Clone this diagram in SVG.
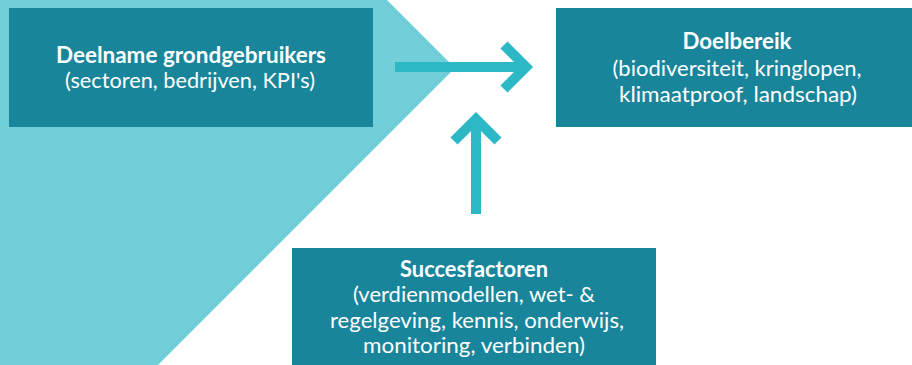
<svg xmlns="http://www.w3.org/2000/svg" width="912" height="365" viewBox="0 0 912 365">
<style>
.box{fill:#18859A}
.t{font-family:Lato,"Open Sans","Liberation Sans",sans-serif;fill:#ffffff;text-anchor:middle;font-size:22px}
.b{font-weight:bold}
.arr{fill:none;stroke:#2DB8C5;stroke-width:10}
</style>
<polygon points="0,0 387,0 455,68 158,365 0,365" fill="#71CFD9"/>
<g id="node-deelname">
<rect class="box" x="9" y="8" width="364" height="119"/>
<text class="t b" x="191" y="63" textLength="270" lengthAdjust="spacingAndGlyphs">Deelname grondgebruikers</text>
<text class="t" x="190" y="88" textLength="250" lengthAdjust="spacingAndGlyphs">(sectoren, bedrijven, KPI's)</text>
</g>
<g id="node-doelbereik">
<rect class="box" x="556" y="8" width="356" height="119"/>
<text class="t b" x="737" y="49" textLength="109" lengthAdjust="spacingAndGlyphs">Doelbereik</text>
<text class="t" x="737" y="76" textLength="249" lengthAdjust="spacingAndGlyphs">(biodiversiteit, kringlopen,</text>
<text class="t" x="738" y="102" textLength="238" lengthAdjust="spacingAndGlyphs">klimaatproof, landschap)</text>
</g>
<g id="node-succesfactoren">
<rect class="box" x="292" y="248" width="364" height="117"/>
<text class="t b" x="474" y="277" textLength="148" lengthAdjust="spacingAndGlyphs">Succesfactoren</text>
<text class="t" x="474" y="302" textLength="242" lengthAdjust="spacingAndGlyphs">(verdienmodellen, wet- &amp;</text>
<text class="t" x="477" y="328" textLength="294" lengthAdjust="spacingAndGlyphs">regelgeving, kennis, onderwijs,</text>
<text class="t" x="474" y="353" textLength="222" lengthAdjust="spacingAndGlyphs">monitoring, verbinden)</text>
</g>
<g id="connectors">
<line class="arr" x1="395" y1="67" x2="526" y2="67"/>
<polyline class="arr" points="504,45 526,67 504,89" stroke-linejoin="miter"/>
<line class="arr" x1="476" y1="214" x2="476" y2="119"/>
<polyline class="arr" points="454,141 476,119 498,141" stroke-linejoin="miter"/>
</g>
</svg>
